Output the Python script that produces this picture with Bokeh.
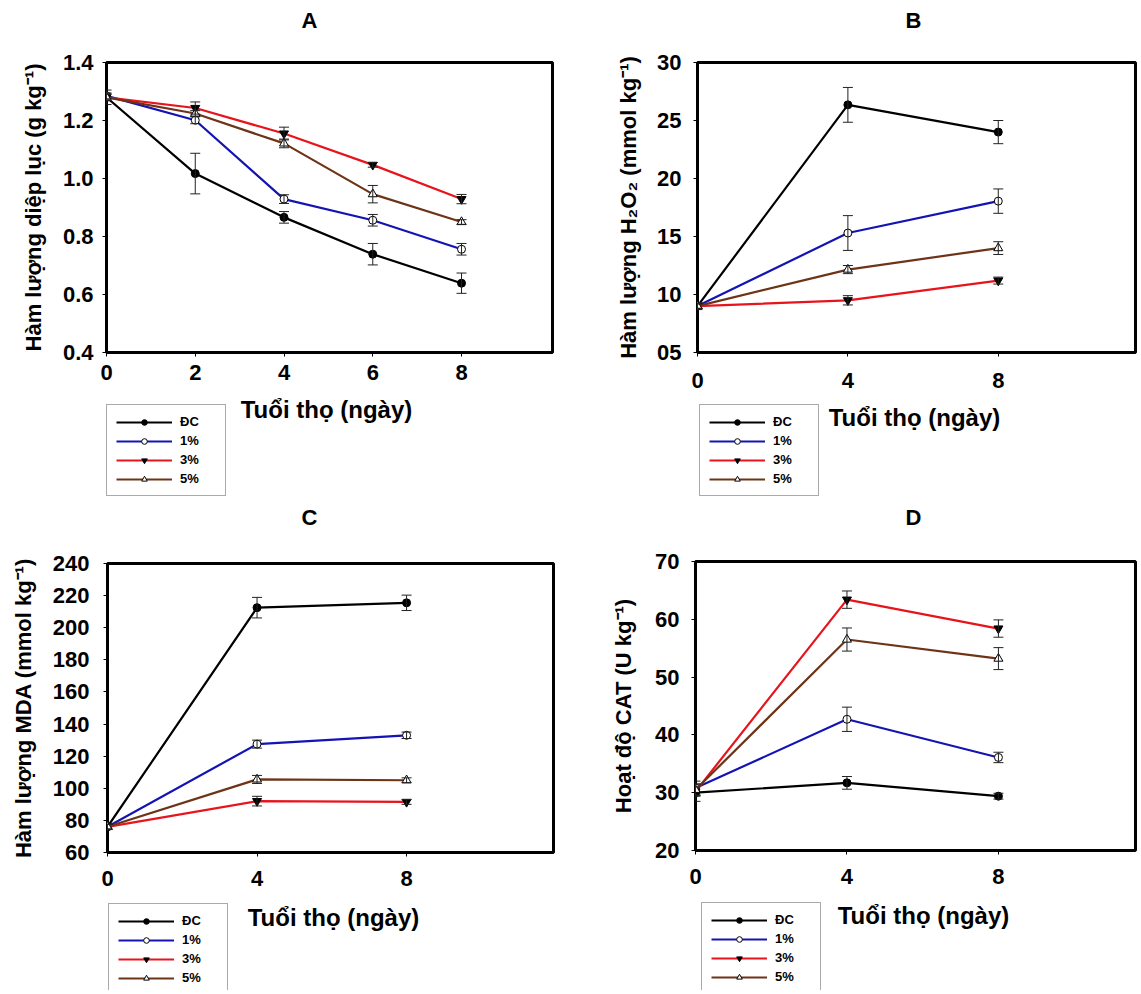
from bokeh.plotting import figure
from bokeh.models import (ColumnDataSource, Whisker, TeeHead, Legend, LegendItem,
                          Label, FixedTicker, Range1d)
from bokeh.layouts import column, row
from bokeh.embed import file_html
from bokeh.resources import INLINE

# ---------------- data ----------------
series_names = ["ĐC", "1%", "3%", "5%"]

days_a = [0, 2, 4, 6, 8]
chl_dc = [1.28, 1.017, 0.866, 0.739, 0.639]
chl_dc_err = [0.025, 0.07, 0.02, 0.037, 0.035]
chl_1 = [1.285, 1.201, 0.929, 0.856, 0.756]
chl_1_err = [0.01, 0.012, 0.015, 0.02, 0.02]
chl_3 = [1.28, 1.243, 1.155, 1.047, 0.929]
chl_3_err = [0.01, 0.021, 0.022, 0.008, 0.016]
chl_5 = [1.28, 1.224, 1.121, 0.946, 0.85]
chl_5_err = [0.012, 0.01, 0.015, 0.03, 0.008]

days = [0, 4, 8]
h2o2_dc = [9.0, 26.35, 24.0]
h2o2_dc_err = [0.3, 1.5, 1.0]
h2o2_1 = [9.0, 15.3, 18.05]
h2o2_1_err = [0.2, 1.5, 1.05]
h2o2_3 = [9.0, 9.5, 11.2]
h2o2_3_err = [0.2, 0.4, 0.3]
h2o2_5 = [9.0, 12.15, 14.0]
h2o2_5_err = [0.2, 0.35, 0.55]

mda_dc = [76, 212.5, 215.5]
mda_dc_err = [1.5, 6.4, 4.8]
mda_1 = [76, 127.5, 133]
mda_1_err = [1.5, 2.5, 2.0]
mda_3 = [76, 92, 91.5]
mda_3_err = [1.5, 3.0, 1.5]
mda_5 = [76, 105.5, 105]
mda_5_err = [1.5, 2.5, 1.5]

cat_dc = [30.0, 31.7, 29.4]
cat_dc_err = [1.5, 1.1, 0.5]
cat_1 = [30.8, 42.7, 36.1]
cat_1_err = [1.2, 2.1, 0.9]
cat_3 = [30.2, 63.4, 58.4]
cat_3_err = [0.8, 1.5, 1.5]
cat_5 = [30.5, 56.5, 53.2]
cat_5_err = [1.0, 2.0, 1.9]

x_ticks_a = [0, 2, 4, 6, 8]
x_ticks = [0, 4, 8]
y_ticks_a = [0.4, 0.6, 0.8, 1.0, 1.2, 1.4]
y_labels_a = ["0.4", "0.6", "0.8", "1.0", "1.2", "1.4"]
y_ticks_b = [5, 10, 15, 20, 25, 30]
y_labels_b = ["05", "10", "15", "20", "25", "30"]
y_ticks_c = [60, 80, 100, 120, 140, 160, 180, 200, 220, 240]
y_labels_c = [str(t) for t in y_ticks_c]
y_ticks_d = [20, 30, 40, 50, 60, 70]
y_labels_d = [str(t) for t in y_ticks_d]
x_title = "Tuổi thọ (ngày)"
panel_titles = ["A", "B", "C", "D"]
y_titles = ["Hàm lượng diệp lục (g kg⁻¹)", "Hàm lượng H₂O₂ (mmol kg⁻¹)",
            "Hàm lượng MDA (mmol kg⁻¹)", "Hoạt độ CAT (U kg⁻¹)"]

# ---------------- style ----------------
FONT = "Liberation Sans"
line_colors = ["#000000", "#1414b4", "#e8141c", "#6e3418"]
markers = ["circle", "circle", "inverted_triangle", "triangle"]
fills = ["#000000", "#ffffff", "#000000", "#ffffff"]
msizes = [8, 8, 9, 9]


def blank_fig(width, height, bl=0, br=0):
    q = figure(width=width, height=height, output_backend="svg", toolbar_location=None,
               x_range=Range1d(1000, 1001), y_range=Range1d(1000, 1001),
               x_axis_location=None, y_axis_location=None,
               min_border_left=bl, min_border_right=br, min_border_top=0,
               min_border_bottom=0, background_fill_color="white",
               border_fill_color="white")
    q.grid.visible = False
    q.outline_line_color = None
    return q


def title_panel(width, height, title, pos):
    q = blank_fig(width, height)
    q.add_layout(Label(x=pos[0], y=pos[1], x_units="screen", y_units="screen",
                       text=title, text_font=FONT, text_font_style="bold",
                       text_font_size="22px", text_align="center",
                       text_baseline="middle", text_color="black"))
    return q


def main_panel(x, ys, errs, xticks, yticks, ylabels, yr, xend, ylabel,
               width, height, bl, br, bt, bb,
               ylab_standoff, ytick_standoff, xtick_standoff):
    p = figure(width=width, height=height, output_backend="svg", toolbar_location=None,
               x_range=Range1d(0, xend), y_range=Range1d(yr[0], yr[1]),
               min_border_left=bl, min_border_right=br, min_border_top=bt,
               min_border_bottom=bb, background_fill_color="white",
               border_fill_color="white")
    p.grid.visible = False
    p.outline_line_color = "black"
    p.outline_line_width = 3
    p.outline_line_alpha = 1.0
    for ax in (p.xaxis[0], p.yaxis[0]):
        ax.axis_line_color = None
        ax.major_tick_in = 0
        ax.major_tick_out = 4
        ax.major_tick_line_color = "black"
        ax.major_tick_line_width = 1
        ax.minor_tick_line_color = None
        ax.major_label_text_font = FONT
        ax.major_label_text_font_style = "bold"
        ax.major_label_text_font_size = "22px"
        ax.major_label_text_color = "black"
        ax.axis_label_text_font = FONT
        ax.axis_label_text_font_style = "bold"
        ax.axis_label_text_font_size = "22px"
        ax.axis_label_text_color = "black"
    p.xaxis[0].ticker = FixedTicker(ticks=xticks)
    p.yaxis[0].ticker = FixedTicker(ticks=yticks)
    p.yaxis[0].major_label_overrides = {t: l for t, l in zip(yticks, ylabels)}
    p.yaxis[0].axis_label = ylabel
    p.yaxis[0].axis_label_standoff = ylab_standoff
    p.yaxis[0].major_label_standoff = ytick_standoff
    p.xaxis[0].major_label_standoff = xtick_standoff

    for yv, ev, col, mk, fc, ms in zip(ys, errs, line_colors, markers, fills, msizes):
        src = ColumnDataSource(dict(x=x, y=yv,
                                    lo=[a - b for a, b in zip(yv, ev)],
                                    hi=[a + b for a, b in zip(yv, ev)]))
        p.line("x", "y", source=src, line_color=col, line_width=2.2)
        w = Whisker(base="x", lower="lo", upper="hi", source=src,
                    line_color="#222222", line_width=1, level="glyph",
                    upper_head=TeeHead(size=10, line_color="#222222", line_width=1),
                    lower_head=TeeHead(size=10, line_color="#222222", line_width=1))
        p.add_layout(w)
        p.scatter("x", "y", source=src, marker=mk, size=ms, fill_color=fc,
                  line_color="#000000", line_width=1)
    return p


def legend_panel(width, height, x, ys, leg_pos, title_pos):
    # legend-only figure; its data ranges lie far from the series so the proxy
    # renderers only appear as legend glyphs
    q = blank_fig(width, height)
    items = []
    for name, yv, col, mk, fc, ms in zip(series_names, ys, line_colors, markers,
                                         fills, msizes):
        lr = q.line(x=x, y=yv, line_color=col, line_width=2.2)
        sr = q.scatter(x=x, y=yv, marker=mk, size=ms - 1, fill_color=fc,
                       line_color="#000000", line_width=1)
        items.append(LegendItem(label=name, renderers=[lr, sr]))
    leg = Legend(items=items, location=leg_pos, orientation="vertical",
                 label_text_font=FONT, label_text_font_style="bold",
                 label_text_font_size="13px", label_text_color="black",
                 glyph_width=56, glyph_height=14, label_height=14, label_width=36,
                 label_standoff=8, spacing=4, padding=9, margin=0,
                 border_line_color="#555555", border_line_width=1,
                 background_fill_color="white", background_fill_alpha=1.0)
    q.add_layout(leg)
    q.add_layout(Label(x=title_pos[0], y=title_pos[1], x_units="screen",
                       y_units="screen", text=x_title, text_font=FONT,
                       text_font_style="bold", text_font_size="24px",
                       text_align="center", text_baseline="middle",
                       text_color="black"))
    return q


ser_a = [chl_dc, chl_1, chl_3, chl_5]
ser_b = [h2o2_dc, h2o2_1, h2o2_3, h2o2_5]
ser_c = [mda_dc, mda_1, mda_3, mda_5]
ser_d = [cat_dc, cat_1, cat_3, cat_5]

ta = title_panel(578, 36, panel_titles[0], (203, 16))
pa = main_panel(days_a, ser_a, [chl_dc_err, chl_1_err, chl_3_err, chl_5_err],
                x_ticks_a, y_ticks_a, y_labels_a, (0.4, 1.4), 10.05, y_titles[0],
                578, 358, 106, 26, 26, 42, 14, 9, 8)
la = legend_panel(578, 108, days_a, ser_a, (0, 6), (220, 93))

tb = title_panel(560, 36, panel_titles[1], (216, 16))
pb = main_panel(days, ser_b, [h2o2_dc_err, h2o2_1_err, h2o2_3_err, h2o2_5_err],
                x_ticks, y_ticks_b, y_labels_b, (5, 30), 11.65, y_titles[1],
                560, 364, 119, 3, 26, 48, 13, 12, 16)
lb = legend_panel(560, 102, days, ser_b, (2, 6), (217, 85))

tc = title_panel(578, 36, panel_titles[2], (202, 21))
pc = main_panel(days, ser_c, [mda_dc_err, mda_1_err, mda_3_err, mda_5_err],
                x_ticks, y_ticks_c, y_labels_c, (60, 240), 11.93, y_titles[2],
                578, 360, 107, 25, 25, 46, 14, 14, 14)
lc = legend_panel(578, 92, days, ser_c, (1, -5), (226, 73))

td = title_panel(560, 36, panel_titles[3], (218, 21))
pd_ = main_panel(days, ser_d, [cat_dc_err, cat_1_err, cat_3_err, cat_5_err],
                 x_ticks, y_ticks_d, y_labels_d, (20, 70), 11.62, y_titles[3],
                 560, 358, 117, 3, 23, 46, 16, 12, 14)
ld = legend_panel(560, 94, days, ser_d, (6, -4), (228, 75))

layout = column(row(column(ta, pa, la), column(tb, pb, lb)),
                row(column(tc, pc, lc), column(td, pd_, ld)))
open("out.html", "w").write(file_html(layout, INLINE))
